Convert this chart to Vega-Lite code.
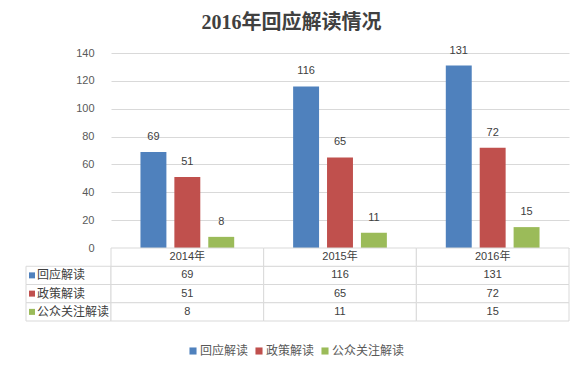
{
  "$schema": "https://vega.github.io/schema/vega-lite/v6.json",
  "background": "white",
  "padding": {"left": 25, "top": 12, "right": 18, "bottom": 4},
  "title": {
    "text": "2016年回应解读情况",
    "font": "Liberation Serif, Noto Sans CJK SC",
    "fontSize": 20,
    "fontWeight": "bold",
    "color": "#404040",
    "anchor": "middle",
    "offset": 12,
    "dx": -6
  },
  "datasets": {
    "vals": [
      {"year": "2014年", "series": "回应解读", "value": 69},
      {"year": "2014年", "series": "政策解读", "value": 51},
      {"year": "2014年", "series": "公众关注解读", "value": 8},
      {"year": "2015年", "series": "回应解读", "value": 116},
      {"year": "2015年", "series": "政策解读", "value": 65},
      {"year": "2015年", "series": "公众关注解读", "value": 11},
      {"year": "2016年", "series": "回应解读", "value": 131},
      {"year": "2016年", "series": "政策解读", "value": 72},
      {"year": "2016年", "series": "公众关注解读", "value": 15}
    ]
  },
  "columns": 2,
  "spacing": 0,
  "bounds": "flush",
  "align": "each",
  "concat": [
    {
      "width": 85,
      "height": 195,
      "data": {"values": [{"a": 1}]},
      "mark": {"type": "point", "opacity": 0},
      "encoding": {}
    },
    {
      "width": 458,
      "height": 195,
      "data": {"name": "vals"},
      "encoding": {
        "x": {"field": "year", "type": "nominal", "axis": null, "scale": {"paddingInner": 0.386, "paddingOuter": 0.193}},
        "xOffset": {"field": "series", "type": "nominal", "sort": ["回应解读", "政策解读", "公众关注解读"], "scale": {"paddingInner": 0.235, "paddingOuter": 0}},
        "y": {
          "field": "value",
          "type": "quantitative",
          "scale": {"domain": [0, 140]},
          "axis": {
            "values": [0, 20, 40, 60, 80, 100, 120, 140],
            "grid": true,
            "gridColor": "#d9d9d9",
            "domain": false,
            "ticks": false,
            "labelPadding": 17,
            "labelColor": "#595959",
            "labelFontSize": 11,
            "labelFont": "Liberation Sans",
            "title": null
          }
        }
      },
      "layer": [
        {
          "mark": {"type": "bar"},
          "encoding": {
            "color": {
              "field": "series",
              "type": "nominal",
              "scale": {"domain": ["回应解读", "政策解读", "公众关注解读"], "range": ["#4F81BD", "#C0504D", "#9BBB59"]},
              "legend": {
                "orient": "none",
                "legendX": 161,
                "legendY": 292,
                "direction": "horizontal",
                "title": null,
                "symbolType": "square",
                "symbolSize": 50,
                "symbolStrokeWidth": 0,
                "labelFontSize": 12,
                "labelFont": "Noto Sans CJK SC",
                "labelColor": "#595959",
                "labelOffset": 1,
                "columnPadding": 4
              }
            }
          }
        },
        {
          "mark": {"type": "text", "dy": -15, "fontSize": 11, "font": "Liberation Sans", "color": "#404040"},
          "encoding": {"text": {"field": "value", "type": "quantitative"}}
        }
      ]
    },
    {
      "width": 85,
      "height": 73,
      "data": {"name": "vals"},
      "transform": [{"filter": "datum.year === '2014年'"}],
      "layer": [
        {
          "mark": {"type": "rect", "fill": "white", "stroke": "#d9d9d9", "strokeWidth": 1},
          "encoding": {
            "y": {"field": "series", "type": "nominal", "scale": {"domain": ["年份", "回应解读", "政策解读", "公众关注解读"], "paddingInner": 0, "paddingOuter": 0}, "axis": null},
            "x": {"value": 0},
            "x2": {"value": 85}
          }
        },
        {
          "mark": {"type": "square", "size": 36, "opacity": 1, "filled": true},
          "encoding": {
            "y": {"field": "series", "type": "nominal"},
            "x": {"value": 6},
            "color": {"field": "series", "type": "nominal", "scale": {"domain": ["回应解读", "政策解读", "公众关注解读"], "range": ["#4F81BD", "#C0504D", "#9BBB59"]}}
          }
        },
        {
          "mark": {"type": "text", "align": "left", "fontSize": 12, "font": "Noto Sans CJK SC", "color": "#404040"},
          "encoding": {
            "y": {"field": "series", "type": "nominal"},
            "x": {"value": 11},
            "text": {"field": "series", "type": "nominal"}
          }
        }
      ]
    },
    {
      "width": 458,
      "height": 73,
      "data": {"name": "vals"},
      "encoding": {
        "x": {"field": "year", "type": "nominal", "axis": null, "scale": {"paddingInner": 0, "paddingOuter": 0}}
      },
      "layer": [
        {
          "mark": {"type": "rect", "fill": "white", "stroke": "#d9d9d9", "strokeWidth": 1},
          "encoding": {
            "y": {"field": "series", "type": "nominal", "scale": {"domain": ["年份", "回应解读", "政策解读", "公众关注解读"], "paddingInner": 0, "paddingOuter": 0}, "axis": null}
          }
        },
        {
          "transform": [{"filter": "datum.series === '回应解读'"}],
          "mark": {"type": "rect", "fill": "white", "stroke": "#d9d9d9", "strokeWidth": 1},
          "encoding": {"y": {"datum": "年份", "type": "nominal"}}
        },
        {
          "mark": {"type": "text", "fontSize": 11, "font": "Liberation Sans", "color": "#404040"},
          "encoding": {
            "y": {"field": "series", "type": "nominal"},
            "text": {"field": "value", "type": "quantitative"}
          }
        },
        {
          "transform": [{"filter": "datum.series === '回应解读'"}],
          "mark": {"type": "text", "fontSize": 11, "font": "Liberation Sans, Noto Sans CJK SC", "color": "#404040"},
          "encoding": {
            "y": {"datum": "年份", "type": "nominal"},
            "text": {"field": "year", "type": "nominal"}
          }
        }
      ]
    }
  ],
  "config": {
    "view": {"stroke": null},
    "font": "Liberation Sans, Noto Sans CJK SC"
  }
}
